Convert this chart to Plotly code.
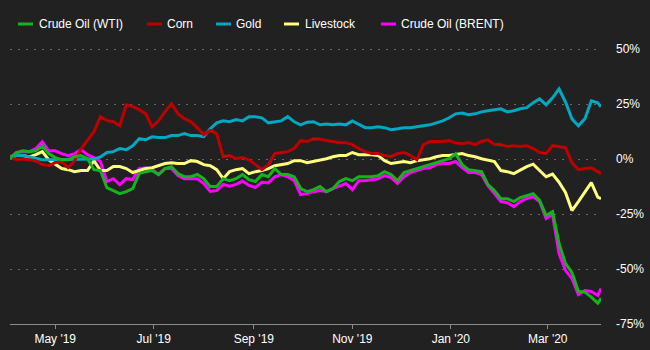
import pandas as pd
import plotly.graph_objects as go

dates = list(pd.date_range("2019-04-03", periods=92, freq="4D")) + [pd.Timestamp("2020-04-03")]

wti = [0.2, 3, 3.8, 3.4, 3.8, 6, 2.5, 0.7, -0.3, -0.3, 1.1, 1.6, 0.2, -4.8, -5.2, -13, -14.3, -15.7, -14.8, -13.4, -6.6, -5.7, -5.2,
       -7, -4.3, -3.4, -6.6, -8, -8, -7, -8.9, -12.5, -12.5, -8.9, -9.8, -8.9, -7, -9.3, -10.2, -7, -8, -4.3, -7, -7, -8,
       -13.4, -14.8, -13.9, -12.5, -14.8, -13.4, -10.2, -8.9, -9.8, -8, -8, -8, -7.5, -5.7, -7, -9.8, -6.1, -5.2, -4.3, -3.4, -2.5, -1.6, -0.7,
       0.2, 2.5, -2.5, -4.8, -5.2, -5.7, -11.6, -14.3, -18, -18, -19.3, -17.5, -16.6, -15.7, -18.8, -25.7, -23.9, -38.4, -47.4, -51.5, -60.1, -60.5, -62.8, -65.5, -63.3]

corn = [1, -0.3, 0, -0.3, -0.7, -2.5, -3, -1.6, -1.1, -3.9, -0.7, 4.7, 8.4, 12.5, 19.3, 17.5, 17, 15.2, 24.7, 23.9, 22.5, 20.7, 14.7,
        17.4, 21.5, 25.2, 20.7, 18.4, 17, 14.3, 11.1, 13, 11.6, 1.1, 1.6, 0.2, 0.7, -0.3, -2.5, -4.8, -2.5, 2.5, 3, 3.4, 4.8,
        8.4, 8, 9.3, 9, 8.4, 8, 7.5, 7.5, 6.6, 4.8, 3.4, 2.5, 2.5, 1.6, 1.1, 2.5, 3, 1.6, -0.3, 6.6, 8, 8, 8,
        8.4, 7.3, 7, 7.5, 6.6, 8, 8.8, 6.6, 6.6, 5.7, 6.1, 5.7, 6.1, 4.8, 3, 2.5, 6.1, 5.7, 5.2, -1.6, -4.8, -4.3, -3.9, -5.7, -6.6]

gold = [1, 1.6, 1.6, 1, 0.5, -0.3, -0.3, -0.3, -0.3, 0, 0, 0, 0, 0, 1, 3, 3.4, 4.8, 4.3, 6.1, 9.3, 8.8, 10.2,
        9.8, 9.8, 10.7, 10.7, 11.6, 10.7, 10.7, 10.2, 13.8, 16.5, 17.4, 17, 18, 17.4, 19.3, 19.3, 18.8, 16.5, 17, 17.4, 19.3, 17,
        15.6, 16.8, 17, 15.6, 16, 15.6, 16, 15.6, 17.4, 16, 14.3, 14.3, 14.7, 14.3, 13.4, 13.8, 14.3, 14.3, 14.7, 15.2, 15.6, 16.5, 17.4,
        18.8, 20.6, 21, 20.2, 20.6, 21.5, 22, 22.4, 22.9, 21.5, 22, 22.9, 23.4, 25.6, 27.4, 24.7, 27.9, 31.9, 26, 18.3, 15.2, 18.3, 26.5, 25.6, 23.8]

livestock = [1, 1.6, 1.6, 1, 2, 3.4, -0.3, -2.5, -4.3, -4.8, -5.7, -5.2, -5.2, -0.7, -5.2, -5.2, -3.4, -3.4, -4.3, -6.1, -5.2, -4.3, -3.9,
             -3, -2, -1.6, -2, -2, -0.7, -1.1, -2.5, -3, -4.8, -8.9, -5.7, -4.8, -4.3, -6.6, -5.7, -5.2, -4.3, -3, -2.5, -2, -0.7,
             -0.7, -1.6, -1.1, -0.3, 0.2, 1.1, 1.6, 1.6, 3, 2, 2, 2, 1.6, -0.7, -2, -1.6, -1.1, -1.6, -0.7, -0.3, 0.2, 1.1, 1.6,
             1.6, 2, 2.5, 1.6, 1.1, 0.2, -0.3, -1.1, -5.2, -5.7, -6.6, -5, -3.4, -2.3, -5.2, -8, -6.8, -10.5, -15.2, -23.4, -19.3, -14.7, -10.7, -17.3, -18]

brent = [0.7, 3, 3.4, 3.4, 4.8, 7.9, 3.8, 3.8, 2.5, 1.6, 2.5, 4.3, 2, 0.7, -1.1, -10.2, -8.9, -11.6, -8.9, -9.3, -4.3, -3.9, -4.8,
         -7, -4.3, -4.3, -7.5, -8.9, -8.9, -8.9, -11.1, -14.7, -14.3, -11.5, -12.3, -11.5, -10, -12, -12.9, -10.5, -10.8, -8, -7, -8, -9.8,
         -16.1, -15.7, -14.8, -14.3, -14.8, -13.4, -12.1, -11.1, -13.9, -9.8, -9.8, -9.3, -8.9, -7.5, -8.4, -11.1, -8, -6.1, -5.2, -4.3, -3.9, -2.5, -2,
         -2, -1.1, -3.9, -6.1, -6.1, -7, -12.1, -15.7, -19.3, -19.8, -21.6, -19.3, -17.9, -17.1, -19.3, -27, -25.2, -43, -50.6, -54.3, -61.6, -59.8, -60.2, -62, -58.9]

names = ["Crude Oil (WTI)", "Corn", "Gold", "Livestock", "Crude Oil (BRENT)"]
colors = ["#14b41e", "#c00000", "#00a8c2", "#ffff80", "#ff00ff"]
series = [wti, corn, gold, livestock, brent]

y_ticks = [-75, -50, -25, 0, 25, 50]
y_labels = ["-75%", "-50%", "-25%", "0%", "25%", "50%"]

BG = "#212121"
FONT = "Arial, Liberation Sans, sans-serif"

fig = go.Figure()
for name, col, ys in reversed(list(zip(names, colors, series))):
    fig.add_trace(go.Scatter(x=dates, y=ys, name=name, mode="lines",
                             line=dict(color=col, width=3), showlegend=False))

# margins / plot area in pixels
L, R, T, B = 10, 49, 47, 26
W, H = 650, 350
pw, ph = W - L - R, H - T - B

def px2x(px):
    return (px - L) / pw

def py2y(py):
    return (H - B - py) / ph

legend_sym = [(18, 33), (147, 162), (216, 231), (284, 299), (381, 396)]
legend_txt = [39, 167, 236, 305, 401]
shapes = []
annotations = []
for (s0, s1), tx, name, col in zip(legend_sym, legend_txt, names, colors):
    shapes.append(dict(type="line", xref="paper", yref="paper",
                       x0=px2x(s0), x1=px2x(s1), y0=py2y(24), y1=py2y(24),
                       line=dict(color=col, width=3)))
    annotations.append(dict(text=name, xref="paper", yref="paper",
                            x=px2x(tx - 2), y=py2y(24), xanchor="left", yanchor="middle",
                            showarrow=False, font=dict(color="#ffffff", size=12, family=FONT)))

fig.update_layout(
    width=W, height=H,
    margin=dict(l=L, r=R, t=T, b=B),
    paper_bgcolor=BG, plot_bgcolor=BG,
    font=dict(family=FONT, size=12, color="#ffffff"),
    showlegend=False,
    shapes=shapes,
    annotations=annotations,
    xaxis=dict(
        range=["2019-04-03", "2020-04-03"],
        tick0="2019-05-01", dtick="M2", tickformat="%b '%y",
        showgrid=False, zeroline=False, automargin=False,
        showline=True, linecolor="#8c8c8c", linewidth=1,
        ticks="outside", ticklen=4, tickcolor="#8c8c8c",
        tickfont=dict(color="#ffffff", size=12),
    ),
    yaxis=dict(
        side="right", range=[-75, 51], automargin=False,
        tickmode="array", tickvals=y_ticks, ticktext=y_labels,
        showgrid=True, gridcolor="#6a6a6a", gridwidth=1, griddash="2px,6px",
        zeroline=False, showline=False, ticks="",
        ticklabelstandoff=14,
        tickfont=dict(color="#ffffff", size=12),
    ),
)

fig.write_html("out.html")
